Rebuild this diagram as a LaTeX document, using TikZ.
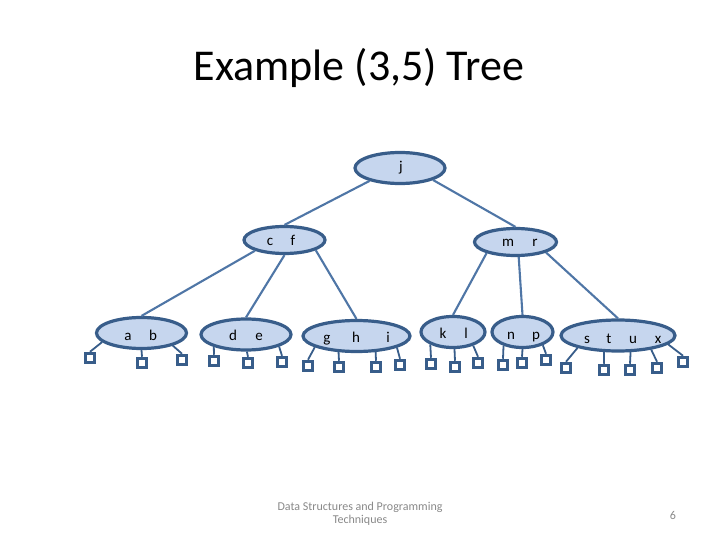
\documentclass[tikz,border=0pt]{standalone}
\usepackage{fontspec}
\setmainfont{Carlito}
\usetikzlibrary{shapes.geometric}
\definecolor{kfill}{HTML}{C6D6EE}
\definecolor{kline}{HTML}{385D8A}
\definecolor{eline}{HTML}{4F76A6}
\definecolor{foot}{HTML}{898989}
\tikzset{
  keynode/.style={ellipse, draw=kline, fill=kfill, line width=3.2pt, inner sep=0pt},
  leaf/.style={rectangle, draw=kline, fill=white, line width=3pt, minimum size=9.5pt, inner sep=0pt},
  tedge/.style={draw=eline, line width=2.1pt},
  ledge/.style={draw=kline, line width=1.8pt},
  letter/.style={anchor=base, inner sep=0pt, font=\fontsize{15}{18}\selectfont},
}
\begin{document}
\begin{tikzpicture}[x=1pt,y=-1pt]
\useasboundingbox[fill=white] (0,0) rectangle (720,540);
\node[anchor=base, inner sep=0pt, font=\fontsize{44}{52}\selectfont] (title) at (359,81) {Example (3,5) Tree};
% tree edges (drawn first, under the nodes)
\node[keynode, minimum width=90pt, minimum height=31pt] (j) at (400,168) {};
\node[keynode, minimum width=81pt, minimum height=27pt] (cf) at (284.5,240) {};
\node[keynode, minimum width=82pt, minimum height=27pt] (mr) at (515.5,242) {};
\node[keynode, minimum width=90pt, minimum height=31pt] (ab) at (141.5,333) {};
\node[keynode, minimum width=90pt, minimum height=31pt] (de) at (246,334.5) {};
\node[keynode, minimum width=107pt, minimum height=31pt] (ghi) at (356.5,336) {};
\node[keynode, minimum width=64pt, minimum height=31pt] (kl) at (453,332) {};
\node[keynode, minimum width=61pt, minimum height=31pt] (np) at (522.5,332) {};
\node[keynode, minimum width=114pt, minimum height=31pt] (stux) at (618,335.5) {};
% letters
\node[letter] (lj) at (401,172) {j};
\node[letter] (lc) at (270,245) {c};
\node[letter] (lf) at (293,245) {f};
\node[letter] (lm) at (508,246) {m};
\node[letter] (lr) at (535,246) {r};
\node[letter] (la) at (128,340) {a};
\node[letter] (lb) at (153,340) {b};
\node[letter] (ld) at (233,340) {d};
\node[letter] (le) at (259,340) {e};
\node[letter] (lg) at (327,342) {g};
\node[letter] (lh) at (356,342) {h};
\node[letter] (li) at (388,342) {i};
\node[letter] (lk) at (443,338) {k};
\node[letter] (ll) at (466,338) {l};
\node[letter] (ln) at (511,339) {n};
\node[letter] (lp) at (536,339) {p};
\node[letter] (ls) at (587,343) {s};
\node[letter] (lt) at (609,343) {t};
\node[letter] (lu) at (633,343) {u};
\node[letter] (lx) at (658,343) {x};
% tree edges
\draw[tedge] (j.203) -- (cf.north);
\draw[tedge] (j.340) -- (mr.north);
\draw[tedge] (cf.200) -- (ab.north);
\draw[tedge] (cf.south) -- (de.north);
\draw[tedge] (cf.342) -- (ghi.north);
\draw[tedge] (mr.201) -- (kl.north);
\draw[tedge] (mr.282) -- (np.north);
\draw[tedge] (mr.341) -- (stux.north);
% leaves
\node[leaf] (s1) at (90,358) {};
\node[leaf] (s2) at (142,363) {};
\node[leaf] (s3) at (182,360) {};
\node[leaf] (s4) at (214,361) {};
\node[leaf] (s5) at (248,363) {};
\node[leaf] (s6) at (282,362) {};
\node[leaf] (s7) at (308,366) {};
\node[leaf] (s8) at (339,367) {};
\node[leaf] (s9) at (376,367) {};
\node[leaf] (s10) at (400,365) {};
\node[leaf] (s11) at (431,364) {};
\node[leaf] (s12) at (455,367) {};
\node[leaf] (s13) at (478,363) {};
\node[leaf] (s14) at (503,365) {};
\node[leaf] (s15) at (522,363) {};
\node[leaf] (s16) at (546,360) {};
\node[leaf] (s17) at (566,368) {};
\node[leaf] (s18) at (604,370) {};
\node[leaf] (s19) at (630,370) {};
\node[leaf] (s20) at (657,368) {};
\node[leaf] (s21) at (683,362) {};
% leaf edges
\draw[ledge] (s1.north) -- (ab.193);
\draw[ledge] (s2.north) -- (ab.270);
\draw[ledge] (s3.north) -- (ab.338);
\draw[ledge] (s4.north) -- (de.201);
\draw[ledge] (s5.north) -- (de.273);
\draw[ledge] (s6.north) -- (de.340);
\draw[ledge] (s7.north) -- (ghi.195);
\draw[ledge] (s8.north) -- (ghi.222);
\draw[ledge] (s9.north) -- (ghi.320);
\draw[ledge] (s10.north) -- (ghi.344);
\draw[ledge] (s11.north) -- (kl.209);
\draw[ledge] (s12.north) -- (kl.275);
\draw[ledge] (s13.north) -- (kl.326);
\draw[ledge] (s14.north) -- (np.216);
\draw[ledge] (s15.north) -- (np.270);
\draw[ledge] (s16.north) -- (np.327);
\draw[ledge] (s17.north) -- (stux.197);
\draw[ledge] (s18.north) -- (stux.230);
\draw[ledge] (s19.north) -- (stux.307);
\draw[ledge] (s20.north) -- (stux.337);
\draw[ledge] (s21.north) -- (stux.350);
% footer
\node[font=\fontsize{12}{13.5}\selectfont, text=foot, align=center, inner sep=0pt] (footer) at (360,514) {Data Structures and Programming\\Techniques};
\node[font=\fontsize{12}{14}\selectfont, text=foot, anchor=base, inner sep=0pt] (num) at (673,519) {6};
\end{tikzpicture}
\end{document}
